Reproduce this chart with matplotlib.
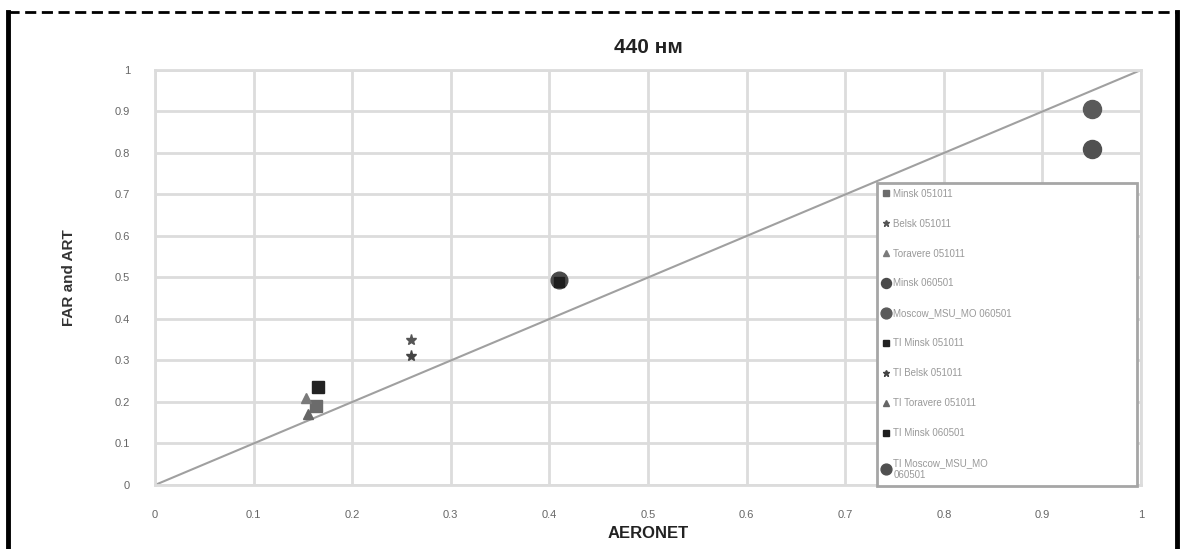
import numpy as np
import matplotlib
matplotlib.use("Agg")
import matplotlib.pyplot as plt
from matplotlib.lines import Line2D

plt.rcParams['font.family'] = ['Liberation Sans', 'DejaVu Sans']

# Series (AERONET vs FAR/ART, 440 nm)
labels = ['Minsk 051011', 'Belsk 051011', 'Toravere 051011', 'Minsk 060501',
          'Moscow_MSU_MO 060501', 'TI Minsk 051011', 'TI Belsk 051011',
          'TI Toravere 051011', 'TI Minsk 060501', 'TI Moscow_MSU_MO\n060501']
x_vals = [0.163, 0.26, 0.153, 0.41, 0.95, 0.165, 0.26, 0.155, 0.41, 0.95]
y_vals = [0.19, 0.35, 0.21, 0.495, 0.905, 0.235, 0.31, 0.17, 0.49, 0.81]
markers = ['s', '*', '^', 'o', 'o', 's', '*', '^', 's', 'o']
colors = ['#6b6b6b', '#555555', '#7a7a7a', '#4a4a4a', '#5a5a5a',
          '#222222', '#444444', '#666666', '#1e1e1e', '#505050']
sizes = [8, 8, 7, 12, 13, 8, 8, 7, 7, 13]

ticks = np.round(np.arange(0, 1.01, 0.1), 1)
tick_labels = ['0'] + [f'{t:.1f}' for t in ticks[1:-1]] + ['1']

fig = plt.figure(figsize=(11.85, 5.49), dpi=100)
ax = fig.add_axes([0.1308, 0.1166, 0.8321, 0.7559])

# 1:1 line
ax.plot([0, 1], [0, 1], color='#a0a0a0', lw=1.5, zorder=2)

for xv, yv, m, c, s, lab in zip(x_vals, y_vals, markers, colors, sizes, labels):
    ax.plot([xv], [yv], linestyle='none', marker=m, color=c, markersize=s,
            label=lab, zorder=3)

ax.set_xlim(0, 1)
ax.set_ylim(0, 1)
ax.set_xticks(ticks)
ax.set_yticks(ticks)
ax.set_xticklabels(tick_labels)
ax.set_yticklabels(tick_labels)
ax.tick_params(length=0, labelsize=8, colors='#666666')
ax.tick_params(axis='x', pad=18)
ax.tick_params(axis='y', pad=18)
ax.grid(True, color='#dcdcdc', lw=2.0)
ax.set_axisbelow(True)
for side in ['top', 'right', 'bottom', 'left']:
    ax.spines[side].set_color('#dcdcdc')
    ax.spines[side].set_linewidth(2)

ax.set_title('440 нм', fontsize=15, fontweight='bold', color='#222222', pad=12)
ax.set_xlabel('AERONET', fontsize=12, fontweight='bold', color='#222222', labelpad=4)
ax.set_ylabel('FAR and ART', fontsize=11, fontweight='bold', color='#333333',
              labelpad=28, family=['Liberation Sans Narrow', 'Liberation Sans'])

leg = ax.legend(loc='upper left', bbox_to_anchor=(0.732, 0.0, 0.264, 0.728),
                mode='expand', fontsize=7, markerscale=0.6, labelspacing=2.05,
                handlelength=0.7, handletextpad=0.4, borderpad=0.6,
                frameon=True, fancybox=False, framealpha=1, borderaxespad=0)
leg.get_frame().set_edgecolor('#a6a6a6')
leg.get_frame().set_linewidth(2)
for t in leg.get_texts():
    t.set_color('#999999')

# outer chart border: thick black sides, dashed top
fig.add_artist(Line2D([0.007, 0.007], [0, 0.978], color='black', lw=3.5,
                      transform=fig.transFigure))
fig.add_artist(Line2D([0.993, 0.993], [0, 0.978], color='black', lw=3.5,
                      transform=fig.transFigure))
fig.add_artist(Line2D([0.007, 0.993], [0.978, 0.978], color='black', lw=2,
                      linestyle=(0, (4, 2)), transform=fig.transFigure))

fig.savefig('out.png', dpi=100)
